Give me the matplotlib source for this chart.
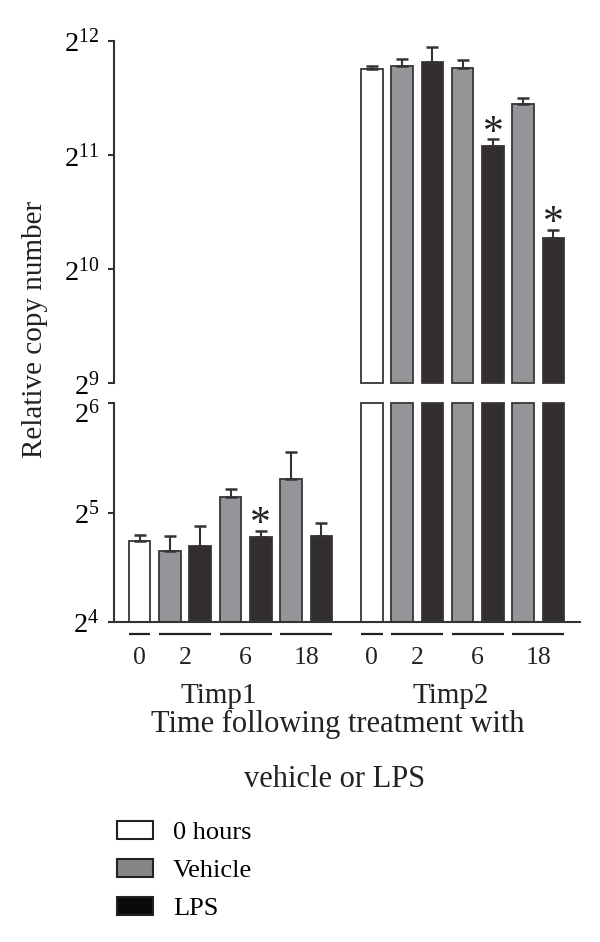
import numpy as np
import matplotlib
matplotlib.use('Agg')
import matplotlib.pyplot as plt
from matplotlib import transforms
from matplotlib.patches import Patch
from matplotlib.ticker import NullLocator

plt.rcParams['font.family'] = ['Liberation Serif', 'DejaVu Serif']
plt.rcParams['mathtext.fontset'] = 'custom'
plt.rcParams['mathtext.rm'] = 'Liberation Serif'
plt.rcParams['mathtext.it'] = 'Liberation Serif:italic'

# data (relative copy number, log2 axis)
genes = ['Timp1', 'Timp2']
conditions = ['0 hours', 'Vehicle', 'LPS', 'Vehicle', 'LPS', 'Vehicle', 'LPS']
time_labels = ['0', '2', '6', '18']
timp1_mean = [26.7, 25.1, 25.8, 35.4, 27.4, 39.6, 27.5]
timp1_err = [1.1, 2.5, 3.6, 1.8, 1.0, 7.3, 2.5]
timp2_mean = [3460, 3520, 3610, 3480, 2160, 2790, 1240]
timp2_err = [50, 140, 330, 170, 90, 110, 60]
significant1 = [False, False, False, False, True, False, False]
significant2 = [False, False, False, False, True, False, True]

fill = {'0 hours': '#ffffff', 'Vehicle': '#939598', 'LPS': '#332e2e'}
legend_fill = {'0 hours': '#ffffff', 'Vehicle': '#858585', 'LPS': '#0a0a0a'}
edge = '#3a3636'

W, H = 600, 942
def fy(py):
    return 1 - py / H

fig = plt.figure(figsize=(W / 100, H / 100), dpi=100)
left, right = 114, 580
ax_top = fig.add_axes([left / W, fy(383.3), (right - left) / W, (383.3 - 40.7) / H])
ax_bot = fig.add_axes([left / W, fy(621.7), (right - left) / W, (621.7 - 403.3) / H])

x1 = np.arange(7)
x2 = np.arange(7) + 7.67
width = 0.71
colors = [fill[c] for c in conditions]

for ax in (ax_top, ax_bot):
    ax.set_yscale('log', base=2)
    ax.set_xlim(-0.849, 14.546)
    ax.yaxis.set_minor_locator(NullLocator())
    for s in ['top', 'right']:
        ax.spines[s].set_visible(False)
    ax.spines['left'].set_linewidth(1.5)
    ax.spines['left'].set_color('#333333')
    ax.tick_params(axis='y', direction='out', length=4.5, width=1.5, color='#333333',
                   pad=6, labelsize=20.5)
    ax.tick_params(axis='x', length=0, labelbottom=False)

# top panel: Timp2 only
lo, hi = 2 ** 9, 2 ** 12
ax_top.set_ylim(lo, hi)
ax_top.spines['bottom'].set_visible(False)
ax_top.bar(x2, np.array(timp2_mean) - lo, bottom=lo, width=width, color=colors,
           edgecolor=edge, linewidth=1.3, clip_on=False, zorder=2)
ax_top.errorbar(x2, timp2_mean, yerr=[np.zeros(7), timp2_err], fmt='none',
                ecolor='#333333', elinewidth=1.5, capsize=4.3, capthick=1.8, zorder=3)
ax_top.set_yticks([2 ** k for k in range(9, 13)])
ax_top.set_yticklabels([r'$2^{%d}$' % k for k in range(9, 13)])

# bottom panel: Timp1 plus the lower part of Timp2
lo, hi = 2 ** 4, 2 ** 6
ax_bot.set_ylim(lo, hi)
ax_bot.spines['bottom'].set_linewidth(1.5)
ax_bot.spines['bottom'].set_color('#333333')
ax_bot.bar(x1, np.array(timp1_mean) - lo, bottom=lo, width=width, color=colors,
           edgecolor=edge, linewidth=1.3, clip_on=False, zorder=2)
ax_bot.bar(x2, np.minimum(timp2_mean, hi) - lo, bottom=lo, width=width, color=colors,
           edgecolor=edge, linewidth=1.3, clip_on=False, zorder=2)
ax_bot.errorbar(x1, timp1_mean, yerr=[np.zeros(7), timp1_err], fmt='none',
                ecolor='#333333', elinewidth=1.5, capsize=4.3, capthick=1.8, zorder=3)
ax_bot.set_yticks([2 ** k for k in range(4, 7)])
ax_bot.set_yticklabels([r'$2^{%d}$' % k for k in range(4, 7)])
# push the 2^6 label down a bit so it does not collide with 2^9
lab6 = ax_bot.get_yticklabels()[-1]
lab6.set_transform(lab6.get_transform() + transforms.ScaledTranslation(0, -8 / 100, fig.dpi_scale_trans))

# significance stars
for ax, xs, means, errs, sig in [(ax_bot, x1, timp1_mean, timp1_err, significant1),
                                 (ax_top, x2, timp2_mean, timp2_err, significant2)]:
    for xi, m, e, s in zip(xs, means, errs, sig):
        if s:
            ax.annotate('*', (xi, m + e), xytext=(0, -3), textcoords='offset points',
                        ha='center', va='baseline', fontsize=30, color='#222222', zorder=4)

# group lines and time labels below the axis
tb = transforms.blended_transform_factory(ax_bot.transData, fig.transFigure)
groups = [[0], [1, 2], [3, 4], [5, 6]]
for base in (x1, x2):
    for g, lab in zip(groups, time_labels):
        xa = base[g[0]] - width / 2
        xb = base[g[-1]] + width / 2
        ax_bot.plot([xa, xb], [fy(634), fy(634)], color='#222222', lw=1.6,
                    transform=tb, clip_on=False, solid_capstyle='butt')
        fig.text((xa + xb) / 2, fy(664), lab, transform=tb, ha='center',
                 va='baseline', fontsize=18.5, color='#222222')

for base, gene in zip((x1, x2), genes):
    fig.text(base.mean() - 0.38, fy(703.3), gene, transform=tb, ha='center',
             va='baseline', fontsize=21, color='#222222')

fig.text(338 / W, fy(731.7), 'Time following treatment with', ha='center',
         va='baseline', fontsize=22, color='#222222')
fig.text(335 / W, fy(786.7), 'vehicle or LPS', ha='center', va='baseline',
         fontsize=22, color='#222222')
fig.text(35 / W, fy(329.5), 'Relative copy number', rotation=90, ha='center',
         va='center', fontsize=21, color='#222222')

handles = [Patch(facecolor=legend_fill[k], edgecolor='#222222', linewidth=1.5)
           for k in ['0 hours', 'Vehicle', 'LPS']]
fig.legend(handles, ['0 hours', 'Vehicle', 'LPS'], loc='upper left',
           bbox_to_anchor=(116.7 / W, fy(821)), frameon=False, fontsize=19,
           handlelength=1.39, handleheight=0.7, handletextpad=0.75,
           labelspacing=0.55, borderpad=0, borderaxespad=0)

fig.savefig('out.png', dpi=100)
